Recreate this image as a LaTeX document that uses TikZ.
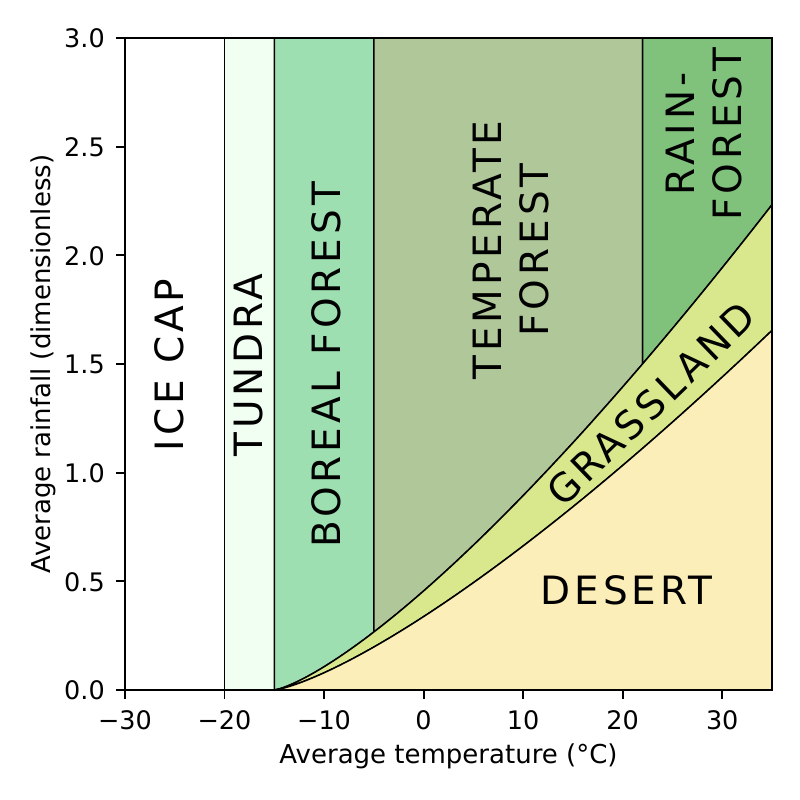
\documentclass[tikz,border=0pt]{standalone}
\usepackage{fontspec}
\setmainfont{DejaVu Sans}
\newfontfamily\biglabel[LetterSpace=10]{DejaVu Sans}
\definecolor{tundra}{RGB}{240,255,242}
\definecolor{boreal}{RGB}{158,223,177}
\definecolor{temperate}{RGB}{176,200,153}
\definecolor{rainf}{RGB}{128,193,123}
\definecolor{grass}{RGB}{217,231,141}
\definecolor{desert}{RGB}{251,238,185}
\tikzset{
  region/.style={draw=black, line width=1.5pt},
  biome/.style={font=\biglabel\fontsize{39}{46.8}\selectfont, inner sep=0pt, align=center},
  ticklab/.style={font=\fontsize{25.5}{30}\selectfont, inner sep=0pt},
  axlab/.style={font=\fontsize{26}{31}\selectfont, inner sep=0pt},
  spine/.style={line width=1.9pt},
  tickmark/.style={line width=1.9pt},
  declare function={fu(\t)=0.01277*exp(1.32*ln(max(\t+15,0.0001)));}
}
\begin{document}
\begin{tikzpicture}[x=1pt,y=1pt]
\useasboundingbox (0,0) rectangle (800,800);
\fill[white] (0,0) rectangle (800,800);
\begin{scope}[shift={(423.6pt,110pt)}, x=9.954pt, y=217.33pt]
  \begin{scope}
    \clip (-30,0) rectangle (35,3);
    \filldraw[region, fill=white] (-30,0) rectangle (-20,3);
    \filldraw[region, fill=tundra] (-20,0) rectangle (-15,3);
    \filldraw[region, fill=boreal] (-15,0) -- plot[domain=-15:-5, samples=40] (\x,{fu(\x)}) -- (-5,3) -- (-15,3) -- cycle;
    \filldraw[region, fill=temperate] plot[domain=-5:22, samples=60] (\x,{fu(\x)}) -- (22,3) -- (-5,3) -- cycle;
    \filldraw[region, fill=rainf] plot[domain=22:35, samples=40] (\x,{fu(\x)}) -- (35,3) -- (22,3) -- cycle;
    \filldraw[region, fill=grass] plot[domain=-15:35, samples=100] (\x,{fu(\x)}) -- plot[domain=35:-15, samples=100] (\x,{0.741*fu(\x)}) -- cycle;
    \filldraw[region, fill=desert] (-15,0) -- plot[domain=-15:35, samples=100] (\x,{0.741*fu(\x)}) -- (35,0) -- cycle;
  \end{scope}
\end{scope}
% spines
\draw[spine] (125,110) rectangle (772,762);
% x ticks
\foreach \t/\lab [count=\k] in {-30/−30,-20/−20,-10/−10,0/0,10/10,20/20,30/30}{
  \draw[tickmark] ({423.6+\t*9.954},110) -- ++(0,-9);
  \node[ticklab, anchor=base] (xt\k) at ({423.6+\t*9.954},70.7) {\lab};
}
% y ticks
\foreach \r/\lab [count=\k] in {0/0.0,0.5/0.5,1/1.0,1.5/1.5,2/2.0,2.5/2.5,3/3.0}{
  \draw[tickmark] (125,{110+\r*217.33}) -- ++(-9,0);
  \node[ticklab, anchor=base east] (yt\k) at (105,{110+\r*217.33-10}) {\lab};
}
% axis labels
\node[axlab, anchor=base] (xlab) at (448.5,36.7) {Average temperature (°C)};
\node[axlab, anchor=base, rotate=90] (ylab) at (50,436) {Average rainfall (dimensionless)};
% biome labels
\node[biome, rotate=90] (ice) at (169.5,435) {ICE CAP};
\node[biome, rotate=90] (tun) at (248.7,435) {TUNDRA};
\node[biome, rotate=90] (bor) at (326.7,435) {BOREAL FOREST};
\node[biome, rotate=90] (tem) at (511.3,550) {TEMPERATE\\FOREST};
\node[biome, rotate=90] (rain) at (703.9,666) {RAIN-\\FOREST};
\node[biome, rotate=44] (gra) at (651,396) {GRASSLAND};
\node[biome] (des) at (626.7,209.2) {DESERT};
\end{tikzpicture}
\end{document}
